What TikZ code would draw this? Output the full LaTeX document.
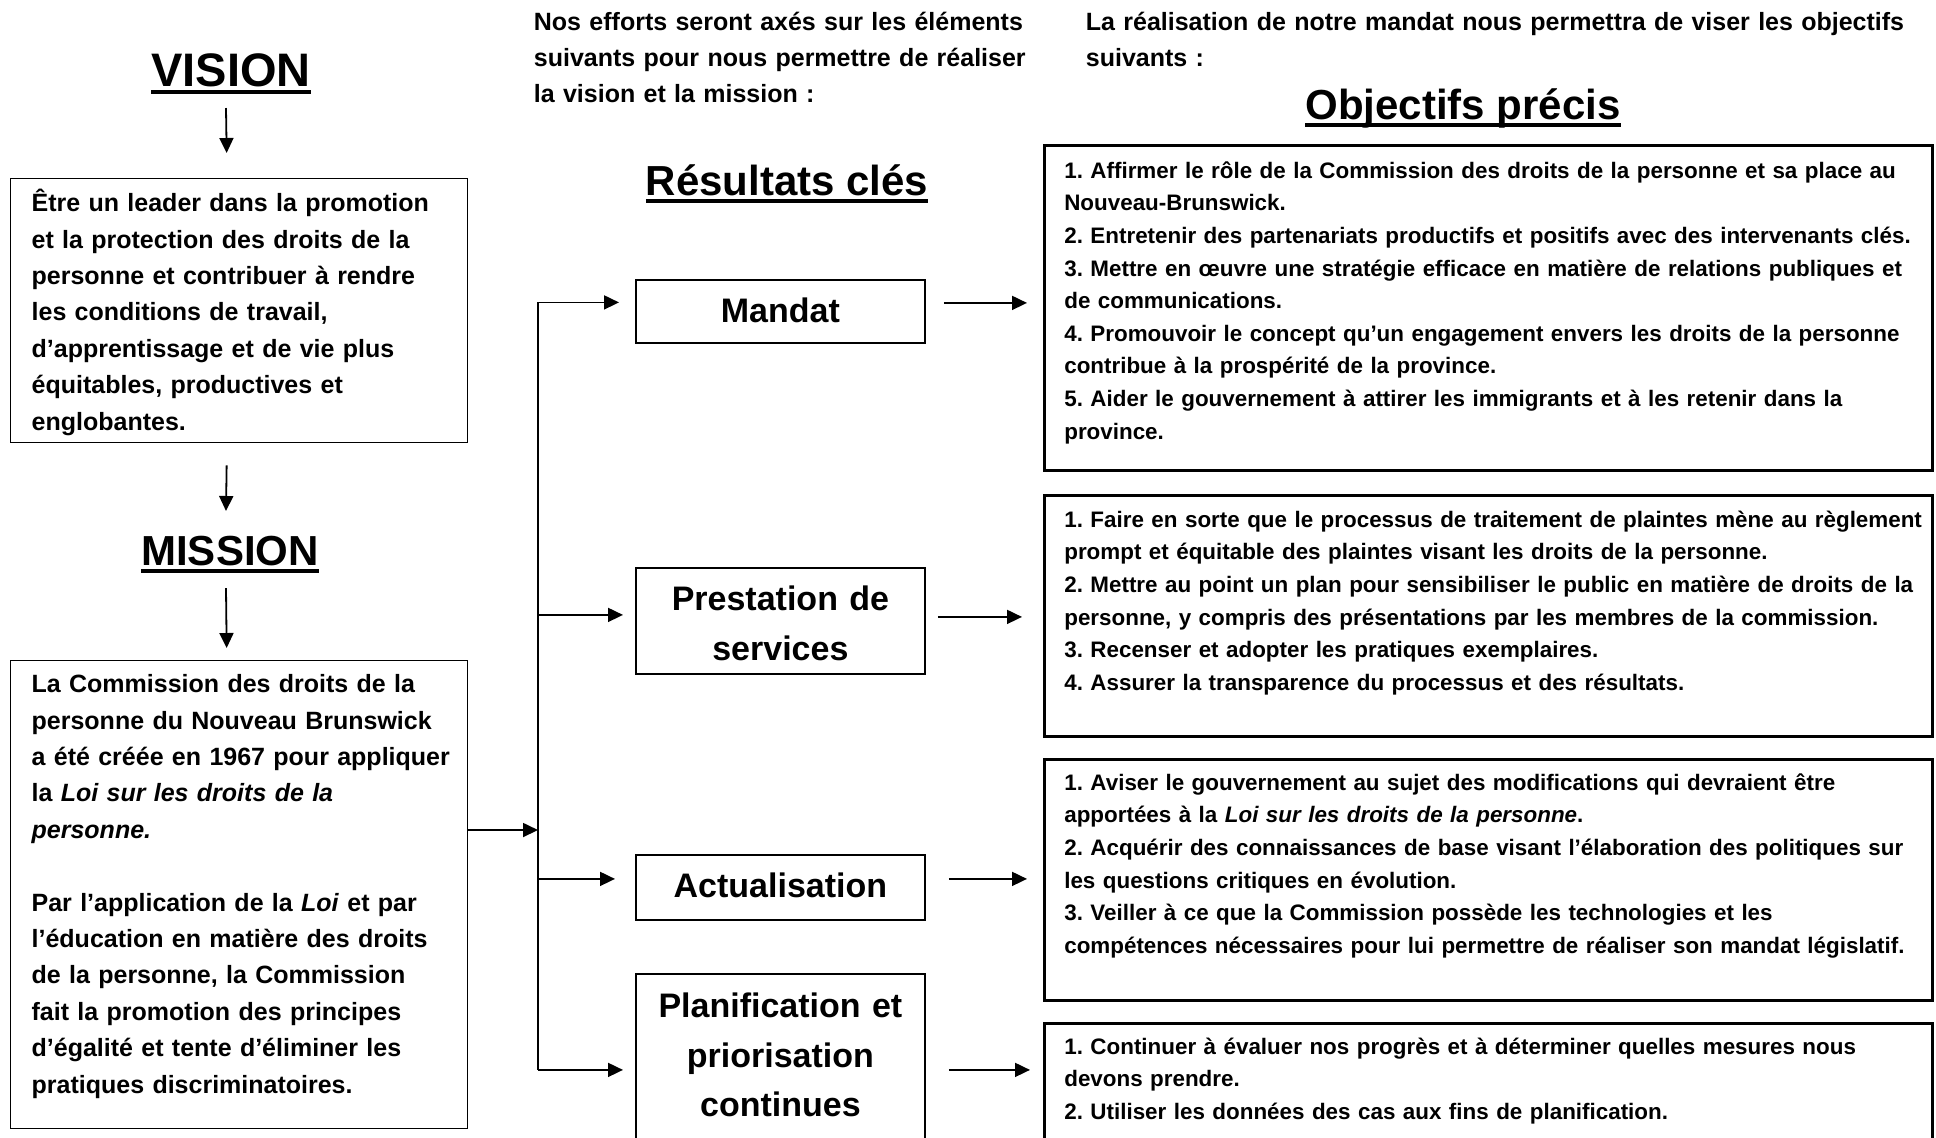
\documentclass[tikz,border=0pt]{standalone}
\usepackage{fontspec}
\setmainfont{Liberation Sans}
\usetikzlibrary{arrows.meta,calc}
\newcommand{\headul}[1]{\setbox0\hbox{#1}\rlap{\rule[-3.8pt]{\wd0}{1.8pt}}\box0}

\begin{document}
\frenchspacing
\begin{tikzpicture}[x=0.5pt,y=-0.5pt,>={Triangle[length=7.5pt,width=7pt]},line width=0.9pt,
    head/.style={anchor=base,inner sep=0pt,font=\bfseries\fontsize{21}{25}\selectfont},
    intro/.style={anchor=north west,inner sep=0pt,align=left,text height=15pt,font=\bfseries\fontsize{12.5}{18}\selectfont},
    keeplines/.style={execute at begin node={\hyphenpenalty=10000\rightskip=-15pt plus 1fil\relax}},
    leftbox/.style={draw,line width=0.65pt,anchor=north west,inner xsep=10.5pt,inner ysep=0pt,text width=207.5pt,align=left,keeplines,font=\bfseries\fontsize{12.5}{18.2}\selectfont},
    keybox/.style={draw,anchor=north west,inner sep=0pt,text width=144.5pt,align=center,font=\bfseries\fontsize{17}{24.75}\selectfont},
    objbox/.style={draw,line width=1.3pt,anchor=north west,inner xsep=10pt,inner ysep=0pt,text width=424pt,align=left,keeplines,font=\bfseries\fontsize{11.2}{16.3}\selectfont}]
        \useasboundingbox (0,0) rectangle (1936,1137);
        \clip (0,0) rectangle (1936,1137);

        \node[head,font=\bfseries\fontsize{23.5}{28}\selectfont] (vision) at (231,86) {\headul{VISION}};
        \node[leftbox,text height=16.5pt,text depth=115.5pt] (vis) at (10,178) {Être un leader dans la promotion\\
            et la protection des droits de la\\
            personne et contribuer à rendre\\
            les conditions de travail,\\
            d’apprentissage et de vie plus\\
            équitables, productives et\\
            englobantes.};
        \node[head] (mission) at (230,565) {\headul{MISSION}};
        \node[leftbox,text height=16pt,text depth=218pt] (mis) at (10,660) {La Commission des droits de la\\
            personne du Nouveau Brunswick\\
            a été créée en 1967 pour appliquer\\
            la \textit{Loi sur les droits de la}\\
            \textit{personne.}\\[18.2pt]
            Par l’application de la \textit{Loi} et par\\
            l’éducation en matière des droits\\
            de la personne, la Commission\\
            fait la promotion des principes\\
            d’égalité et tente d’éliminer les\\
            pratiques discriminatoires.};

        \node[intro,text width=260pt] (effort) at (533,0) {Nos efforts seront axés sur les éléments\\
            suivants pour nous permettre de réaliser\\
            la vision et la mission :};
        \node[head] (keyres) at (787,195) {\headul{Résultats clés}};
        \node[keybox,text height=21.5pt,text depth=10pt] (man) at (635,279) {Mandat};
        \node[keybox,text height=21.5pt,text depth=31.5pt] (pre) at (635,567) {Prestation de\\ services};
        \node[keybox,text height=21.5pt,text depth=11pt] (act) at (635,854) {Actualisation};
        \node[keybox,text height=22pt,text depth=71.5pt] (pla) at (635,973) {Planification et\\ priorisation\\ continues};

        \node[intro,text width=420pt] (aim) at (1085,0) {La réalisation de notre mandat nous permettra de viser les objectifs\\
            suivants :};
        \node[head] (objs) at (1463,119) {\headul{Objectifs précis}};
        \node[objbox,text height=16.5pt,text depth=146pt] (o1) at (1043,144) {1. Affirmer le rôle de la Commission des droits de la personne et sa place au\\
            Nouveau-Brunswick.\\
            2. Entretenir des partenariats productifs et positifs avec des intervenants clés.\\
            3. Mettre en œuvre une stratégie efficace en matière de relations publiques et\\
            de communications.\\
            4. Promouvoir le concept qu’un engagement envers les droits de la personne\\
            contribue à la prospérité de la province.\\
            5. Aider le gouvernement à attirer les immigrants et à les retenir dans la\\
            province.};
        \node[objbox,text height=16pt,text depth=104.5pt] (o2) at (1043,494) {1. Faire en sorte que le processus de traitement de plaintes mène au règlement\\
            prompt et équitable des plaintes visant les droits de la personne.\\
            2. Mettre au point un plan pour sensibiliser le public en matière de droits de la\\
            personne, y compris des présentations par les membres de la commission.\\
            3. Recenser et adopter les pratiques exemplaires.\\
            4. Assurer la transparence du processus et des résultats.};
        \node[objbox,text height=15.5pt,text depth=105pt] (o3) at (1043,758) {1. Aviser le gouvernement au sujet des modifications qui devraient être\\
            apportées à la \textit{Loi sur les droits de la personne}.\\
            2. Acquérir des connaissances de base visant l’élaboration des politiques sur\\
            les questions critiques en évolution.\\
            3. Veiller à ce que la Commission possède les technologies et les\\
            compétences nécessaires pour lui permettre de réaliser son mandat législatif.};
        \node[objbox,text height=15.5pt,text depth=53.5pt] (o4) at (1043,1022) {1. Continuer à évaluer nos progrès et à déterminer quelles mesures nous\\
            devons prendre.\\
            2. Utiliser les données des cas aux fins de planification.};

        \coordinate (tk) at (538,830);

        \draw[->] ($(vision.base)+(-5,22)$) -- ($(vis.north)+(-12.5,-25)$);
        \draw[->] ($(vis.south)+(-12.5,22)$) -- ($(mission.base)+(-4,-54)$);
        \draw[->] ($(mission.base)+(-4,23)$) -- ($(mis.north)+(-12.5,-12)$);
        \draw[->] (mis.east |- tk) -- (tk);
        \draw ($(tk |- man.west)+(0,-9)$) -- ($(tk |- pla.west)+(0,2.5)$);
        \draw[->] ($(tk |- man.west)+(0,-9)$) -- ($(man.west)+(-16,-9)$);
        \draw[->] ($(tk |- pre.west)+(0,-6)$) -- ($(pre.west)+(-12,-6)$);
        \draw[->] ($(tk |- act.west)+(0,-8.5)$) -- ($(act.west)+(-20,-8.5)$);
        \draw[->] ($(tk |- pla.west)+(0,2.5)$) -- ($(pla.west)+(-12,2.5)$);
        \draw[->] ($(man.east)+(18,-8.5)$) -- ($(man.east -| o1.west)+(-16,-8.5)$);
        \draw[->] ($(pre.east)+(12,-4)$) -- ($(pre.east -| o2.west)+(-21,-4)$);
        \draw[->] ($(act.east)+(23,-8.5)$) -- ($(act.east -| o3.west)+(-16,-8.5)$);
        \draw[->] ($(pla.east)+(23,2.5)$) -- ($(pla.east -| o4.west)+(-13,2.5)$);
    \end{tikzpicture}
\end{document}
